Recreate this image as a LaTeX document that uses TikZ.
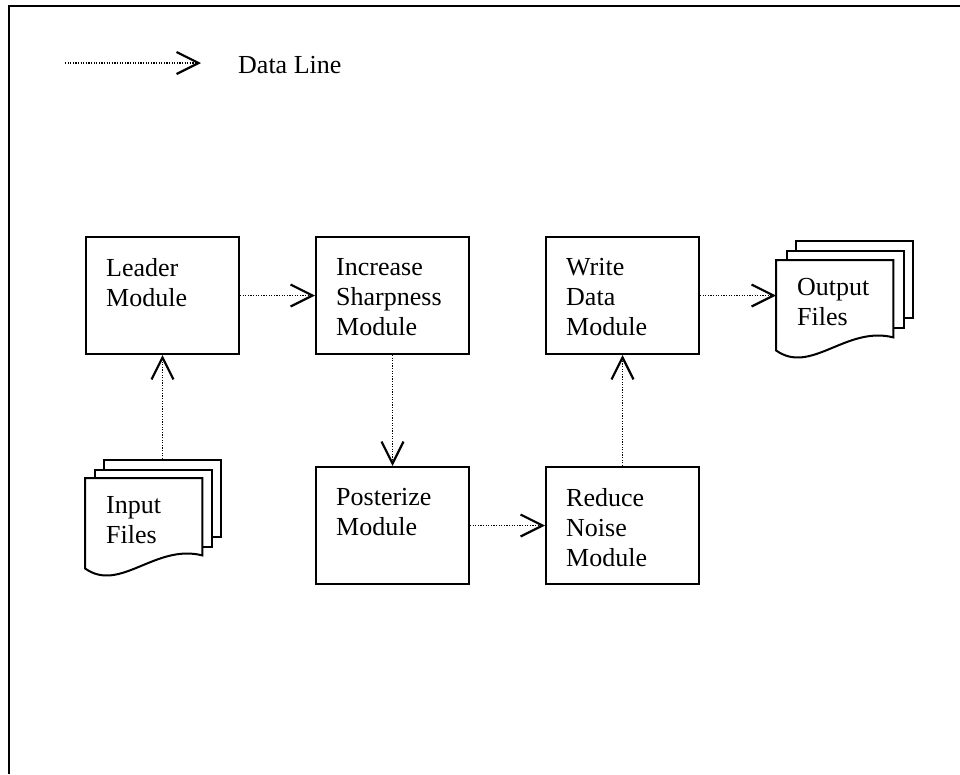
\documentclass[tikz,border=0pt]{standalone}
\usepackage{fontspec}
\setmainfont{Liberation Serif}
\usetikzlibrary{arrows.meta,calc}
\begin{document}
\begin{tikzpicture}[x=1pt,y=-1pt,
  every node/.style={font=\fontsize{26}{30}\selectfont},
  modbox/.style={draw, line width=2pt, minimum width=153pt, minimum height=117pt,
    anchor=north west, inner sep=0pt},
  boxtext/.style={anchor=north west, align=left, inner sep=0pt},
  sheet/.style={draw, fill=white, line width=2pt, minimum width=117pt,
    minimum height=77pt, anchor=north west, inner sep=0pt},
  docarea/.style={minimum width=117pt, minimum height=90pt, anchor=north west, inner sep=0pt},
  docline/.style={line width=2pt, fill=white, line join=miter},
  dataline/.style={line width=1.4pt, dash pattern=on 1.2pt off 1.4pt,
    -{Straight Barb[length=22pt,width=22pt,line width=0.8pt 1]}},
]
\useasboundingbox (0,0) rectangle (960,774);

% open frame: left and top edges
\draw[line width=2.6pt] (9,774) -- (9,6) -- (960,6);

% legend
\coordinate (legS) at (65,63);
\coordinate (legE) at (201,63);
\draw[dataline] (legS) -- (legE);
\node[anchor=base west, inner sep=0pt] (legT) at (238,73) {Data Line};

% module boxes
\node[modbox] (lead) at (85,236) {};
\node[modbox] (inc)  at (315,236) {};
\node[modbox] (wd)   at (545,236) {};
\node[modbox] (post) at (315,466) {};
\node[modbox] (red)  at (545,466) {};

\node[boxtext] (leadT) at ($(lead.north west)+(21,22)$) {Leader\\Module};
\node[boxtext] (incT)  at ($(inc.north west)+(21,22)$) {Increase\\Sharpness\\Module};
\node[boxtext] (wdT)   at ($(wd.north west)+(21,22)$) {Write\\Data\\Module};
\node[boxtext] (postT) at ($(post.north west)+(21,22)$) {Posterize\\Module};
\node[boxtext] (redT)  at ($(red.north west)+(21,22)$) {Reduce\\Noise\\Module};

% input file stack
\node[sheet] (inB) at (103,459) {};
\node[sheet] (inM) at (94,469) {};
\node[docarea] (inF) at (85,478) {};
\draw[docline] (inF.south west) -- (inF.north west) -- (inF.north east)
  -- ($(inF.south east)+(0,-13)$)
  .. controls ($(inF.south west)+(70,-25)$) and ($(inF.south west)+(35,25)$) .. (inF.south west)
  -- cycle;
\node[boxtext] (inT) at ($(inF.north west)+(21,18)$) {Input\\Files};

% output file stack
\node[sheet] (outB) at (795,240) {};
\node[sheet] (outM) at (786,250) {};
\node[docarea] (outF) at (776,260) {};
\draw[docline] (outF.south west) -- (outF.north west) -- (outF.north east)
  -- ($(outF.south east)+(0,-13)$)
  .. controls ($(outF.south west)+(70,-25)$) and ($(outF.south west)+(35,25)$) .. (outF.south west)
  -- cycle;
\node[boxtext] (outT) at ($(outF.north west)+(21,18)$) {Output\\Files};

% data lines
\draw[dataline] (inB.north) -- (lead.south);
\draw[dataline] (lead.east) -- (inc.west);
\draw[dataline] (inc.south) -- (post.north);
\draw[dataline] (post.east) -- (red.west);
\draw[dataline] (red.north) -- (wd.south);
\draw[dataline] (wd.east) -- (wd.east -| outF.west);
\end{tikzpicture}
\end{document}
